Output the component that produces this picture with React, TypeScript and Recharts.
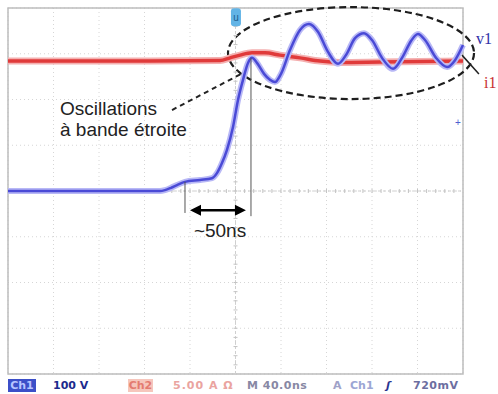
import {
  CartesianGrid,
  Line,
  LineChart,
  ReferenceArea,
  ReferenceDot,
  ReferenceLine,
  XAxis,
  YAxis,
} from 'recharts';

// time in ns (40 ns / div, 10 div), amplitude in divisions
const timeTicks = [0, 40, 80, 120, 160, 200, 240, 280, 320, 360, 400];
const divTicks = [-4, -3, -2, -1, 0, 1, 2, 3, 4];

const v1Times = [
  0, 80.9, 133.6, 138.0, 143.3, 148.6, 155.6, 168.8, 179.3, 183.7, 188.1, 192.5, 197.8, 202.2,
  206.6, 211.0, 214.5, 218.9, 225.1, 230.3, 234.7, 240.0, 247.9, 256.7, 264.6, 272.5, 281.3,
  290.1, 297.1, 305.1, 313.0, 320.0, 328.8, 338.5, 347.3, 354.3, 360.4, 366.6, 376.3, 386.0,
  393.0, 400,
];
const v1Values = [
  0, 0, 0, 0.02, 0.07, 0.13, 0.2, 0.24, 0.28, 0.39, 0.61, 0.9, 1.4, 1.99, 2.43, 2.8, 2.91, 2.8,
  2.56, 2.43, 2.38, 2.56, 3.08, 3.52, 3.65, 3.48, 3.04, 2.78, 2.97, 3.34, 3.45, 3.3, 2.91, 2.67,
  2.95, 3.28, 3.43, 3.3, 2.91, 2.71, 2.86, 3.19,
];

const i1Times = [0, 98.5, 186.4, 195.2, 204.0, 214.5, 225.9, 239.1, 256.7, 274.3, 291.9, 327.0, 362.2, 400];
const i1Values = [2.84, 2.84, 2.85, 2.91, 2.97, 3.02, 3.02, 2.97, 2.91, 2.84, 2.81, 2.82, 2.83, 2.84];

const v1Data = v1Times.map((t, i) => ({ t, v: v1Values[i] }));
const i1Data = i1Times.map((t, i) => ({ t, v: i1Values[i] }));

const textFont = '"Liberation Sans", Arial, sans-serif';

const makeText =
  (text: string, anchor: 'start' | 'middle' = 'start') =>
  (p: any) => (
    <text x={p.cx} y={p.cy} fontFamily={textFont} fontSize={19} fill="#222" textAnchor={anchor}>
      {text}
    </text>
  );

const makeSymbol = (label: string, color: string) => (p: any) => (
  <text x={p.cx} y={p.cy} fontFamily='"Liberation Serif", "Times New Roman", serif' fontSize={16} fill={color}>
    {label}
  </text>
);

const DoubleArrow = (p: any) => {
  const { x1, y1, x2, y2 } = p;
  const h = 11;
  const w = 5.5;
  return (
    <g>
      <line x1={x1 + h - 1} y1={y1} x2={x2 - h + 1} y2={y2} stroke="#000" strokeWidth={2.5} />
      <polygon points={`${x1},${y1} ${x1 + h},${y1 - w} ${x1 + h},${y1 + w}`} fill="#000" />
      <polygon points={`${x2},${y2} ${x2 - h},${y2 - w} ${x2 - h},${y2 + w}`} fill="#000" />
    </g>
  );
};

const Ellipse = (p: any) => (
  <ellipse
    cx={p.x + p.width / 2}
    cy={p.y + p.height / 2}
    rx={p.width / 2}
    ry={p.height / 2}
    fill="none"
    stroke="#1e1e1e"
    strokeWidth={2.2}
    strokeDasharray="7 4"
  />
);

// centre axis with the small sub-division marks
const CenterH = (p: any) => {
  const { x1, x2, y1 } = p;
  const step = (x2 - x1) / 50;
  const marks = [];
  for (let i = 1; i < 50; i++) {
    marks.push(<line key={i} x1={x1 + i * step} x2={x1 + i * step} y1={y1 - 2} y2={y1 + 2} stroke="#c4c4c4" />);
  }
  return (
    <g>
      <line x1={x1} x2={x2} y1={y1} y2={y1} stroke="#cfcfcf" strokeDasharray="3 2" />
      {marks}
    </g>
  );
};

const CenterV = (p: any) => {
  const { x1, y1, y2 } = p;
  const top = Math.min(y1, y2);
  const step = Math.abs(y2 - y1) / 40;
  const marks = [];
  for (let i = 1; i < 40; i++) {
    marks.push(<line key={i} x1={x1 - 2} x2={x1 + 2} y1={top + i * step} y2={top + i * step} stroke="#c4c4c4" />);
  }
  return (
    <g>
      <line x1={x1} x2={x1} y1={y1} y2={y2} stroke="#cfcfcf" strokeDasharray="3 2" />
      {marks}
    </g>
  );
};

const TriggerMark = (p: any) => (
  <g>
    <rect x={p.cx - 5} y={p.cy - 9} width={10} height={18} rx={3} fill="#62b4e6" />
    <text x={p.cx} y={p.cy + 4} fontFamily={textFont} fontSize={10} fill="#1f5f8f" textAnchor="middle">
      u
    </text>
  </g>
);

const LevelMark = (p: any) => (
  <text x={p.cx} y={p.cy} fontFamily={textFont} fontSize={10} fill="#5060d0" textAnchor="middle">
    +
  </text>
);

const statusFont: React.CSSProperties = {
  position: 'absolute',
  top: 379,
  fontFamily: '"DejaVu Sans", sans-serif',
  fontSize: 11,
  fontWeight: 'bold',
  lineHeight: '13px',
  whiteSpace: 'nowrap',
};

export default function App() {
  return (
    <div style={{ position: 'absolute', left: 0, top: 0, width: 498, height: 394, overflow: 'hidden' }}>
      <LineChart width={498} height={394} margin={{ top: 8, right: 35, bottom: 20, left: 8 }}>
        <XAxis type="number" dataKey="t" domain={[0, 400]} ticks={timeTicks} hide />
        <YAxis type="number" domain={[-4, 4]} ticks={divTicks} hide />
        <CartesianGrid stroke="#d6d6d6" strokeDasharray="1 3" />
        <ReferenceLine y={0} shape={CenterH} />
        <ReferenceLine x={200} shape={CenterV} />
        <ReferenceArea x1={0} x2={400} y1={-4} y2={4} fill="none" stroke="#bdbdbd" strokeWidth={1.5} />

        <Line data={i1Data} dataKey="v" type="monotone" stroke="#f4b0b0" strokeWidth={7} dot={false} isAnimationActive={false} />
        <Line data={i1Data} dataKey="v" type="monotone" stroke="#e03a3a" strokeWidth={3.5} dot={false} isAnimationActive={false} />
        <Line data={v1Data} dataKey="v" type="monotone" stroke="#b8b8f6" strokeWidth={6} dot={false} isAnimationActive={false} />
        <Line data={v1Data} dataKey="v" type="monotone" stroke="#4a4ad6" strokeWidth={2.5} dot={false} isAnimationActive={false} />

        <ReferenceArea x1={193.4} x2={409.7} y1={2.01} y2={4.02} ifOverflow="visible" shape={Ellipse} />
        <ReferenceLine
          segment={[{ x: 144.2, y: 1.77 }, { x: 206.6, y: 2.58 }]}
          stroke="#222"
          strokeWidth={2}
          strokeDasharray="5 4"
        />
        <ReferenceLine
          segment={[{ x: 399.1, y: 2.97 }, { x: 414, y: 2.56 }]}
          ifOverflow="visible"
          stroke="#222"
          strokeWidth={1.5}
        />
        <ReferenceLine segment={[{ x: 155.6, y: 0.2 }, { x: 155.6, y: -0.48 }]} stroke="#555" strokeWidth={1} />
        <ReferenceLine segment={[{ x: 213.6, y: 2.91 }, { x: 213.6, y: -0.55 }]} stroke="#555" strokeWidth={1} />
        <ReferenceLine segment={[{ x: 160, y: -0.42 }, { x: 209.2, y: -0.42 }]} shape={DoubleArrow} />

        <ReferenceDot x={45.7} y={1.66} ifOverflow="visible" shape={makeText('Oscillations')} />
        <ReferenceDot x={45.7} y={1.2} ifOverflow="visible" shape={makeText('à bande étroite')} />
        <ReferenceDot x={186.4} y={-1.01} ifOverflow="visible" shape={makeText('~50ns', 'middle')} />
        <ReferenceDot x={411.4} y={3.21} ifOverflow="visible" shape={makeSymbol('v1', '#3030a8')} />
        <ReferenceDot x={418.5} y={2.25} ifOverflow="visible" shape={makeSymbol('i1', '#c83030')} />
        <ReferenceDot x={200.4} y={3.8} ifOverflow="visible" shape={TriggerMark} />
        <ReferenceDot x={395.6} y={1.41} ifOverflow="visible" shape={LevelMark} />
      </LineChart>

      <div style={{ ...statusFont, left: 8, width: 28, background: '#3c4fc8', color: '#b8c4ff', textAlign: 'center' }}>Ch1</div>
      <div style={{ ...statusFont, left: 53, color: '#1c2a8c' }}>100 V</div>
      <div style={{ ...statusFont, left: 128, width: 25, background: '#f6c6bc', color: '#e47a70', textAlign: 'center' }}>Ch2</div>
      <div style={{ ...statusFont, left: 173, color: '#eaa4a0', letterSpacing: 1 }}>5.00 A Ω</div>
      <div style={{ ...statusFont, left: 247, color: '#8888a4', letterSpacing: 0.5 }}>M 40.0ns</div>
      <div style={{ ...statusFont, left: 333, color: '#a0a2c8' }}>A</div>
      <div style={{ ...statusFont, left: 350, color: '#9ca6d4' }}>Ch1</div>
      <div style={{ ...statusFont, left: 386, color: '#2a3490', fontStyle: 'italic' }}>ʃ</div>
      <div style={{ ...statusFont, left: 413, color: '#6c6ea0', letterSpacing: 0.5 }}>720mV</div>
    </div>
  );
}
